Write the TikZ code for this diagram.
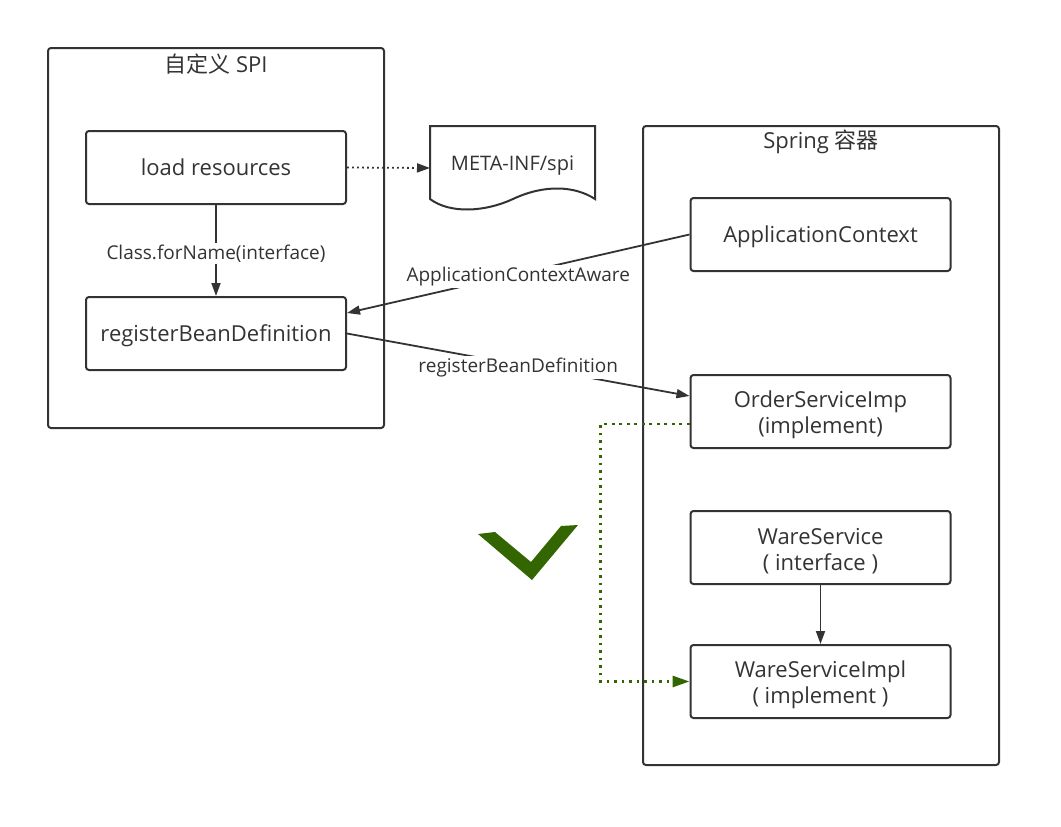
\documentclass[tikz,border=0pt]{standalone}
\usepackage{fontspec}
\setmainfont{Open Sans}
\newfontfamily\cjk{Noto Sans CJK SC}
\usetikzlibrary{arrows.meta,calc}
\definecolor{ink}{HTML}{333333}
\definecolor{okgreen}{HTML}{336600}
\newcommand\firststrut{\rule{0pt}{23pt}}
\tikzset{
  container/.style={draw=ink,line width=2pt,rounded corners=3pt},
  box/.style={draw=ink,line width=2pt,rounded corners=3pt,minimum width=260pt,minimum height=73pt,
    inner sep=0pt,align=center,font=\fontsize{22}{26}\selectfont,text=ink,text height=18pt,text depth=2pt},
  twoline/.style={text height={},text depth={}},
  conn/.style={draw=ink,line width=1.8pt,-{Triangle[length=13pt,width=9pt]}},
  lbl/.style={fill=white,inner sep=2pt,font=\fontsize{19}{22}\selectfont,text=ink,yshift=-3pt},
  title/.style={font=\fontsize{22}{24}\selectfont,text=ink,inner sep=0pt},
}
\begin{document}
\begin{tikzpicture}[x=1pt,y=-1pt]
\useasboundingbox (0,0) rectangle (1061,827);
% containers
\draw[container] (48,48) rectangle (384,428);
\node[title] (spititle) at (216,64) {{\cjk 自定义} SPI};
\draw[container] (643,126) rectangle (999,765);
\node[title] (springtitle) at (821,142) {Spring {\cjk 容器}};
% nodes
\node[box] (load) at (216,167.5) {load resources};
\node[box] (reg) at (216,333.5) {registerBeanDefinition};
\node[box] (appctx) at (820.5,234.5) {ApplicationContext};
\node[box,twoline] (order) at (820.5,411.5) {\firststrut OrderServiceImp\\(implement)};
\node[box,twoline] (ware) at (820.5,547.5) {\firststrut WareService\\( interface )};
\node[box,twoline] (wareimpl) at (820.5,681.5) {\firststrut WareServiceImpl\\( implement )};
% document shape
\draw[draw=ink,line width=2pt,fill=white] (430,126) -- (595,126) -- (595,199)
  .. controls (575,186) and (545,184) .. (513,199)
  .. controls (485,212) and (450,214) .. (430,199) -- cycle;
\node[inner sep=0pt,font=\fontsize{20}{22}\selectfont,text=ink] (meta) at (512.5,166) {META-INF/spi};
\coordinate (metaw) at (430,168);
% connectors
\draw[conn,line width=1.8pt,dash pattern=on 1.8pt off 3.2pt] (load.east) -- (metaw);
\draw[conn] (load.south) -- node[lbl] {Class.forName(interface)} (reg.north);
\draw[conn] (appctx.west) -- node[lbl] {ApplicationContextAware} ([yshift=20.5pt]reg.east);
\draw[conn] (reg.east) -- node[lbl] {registerBeanDefinition} ([yshift=15.5pt]order.west);
\draw[conn] (ware.south) -- (wareimpl.north);
\draw[draw=okgreen,line width=2.8pt,dash pattern=on 2.8pt off 4.7pt,-{Triangle[length=17pt,width=11pt,fill=okgreen]}]
  ([yshift=-12.5pt]order.west) -- ++(-89,0) |- (wareimpl.west);
% check mark
\fill[okgreen] (478,534) -- (495,532) -- (531,562) -- (561,526) -- (578,525) -- (532,580) -- cycle;
\end{tikzpicture}
\end{document}
